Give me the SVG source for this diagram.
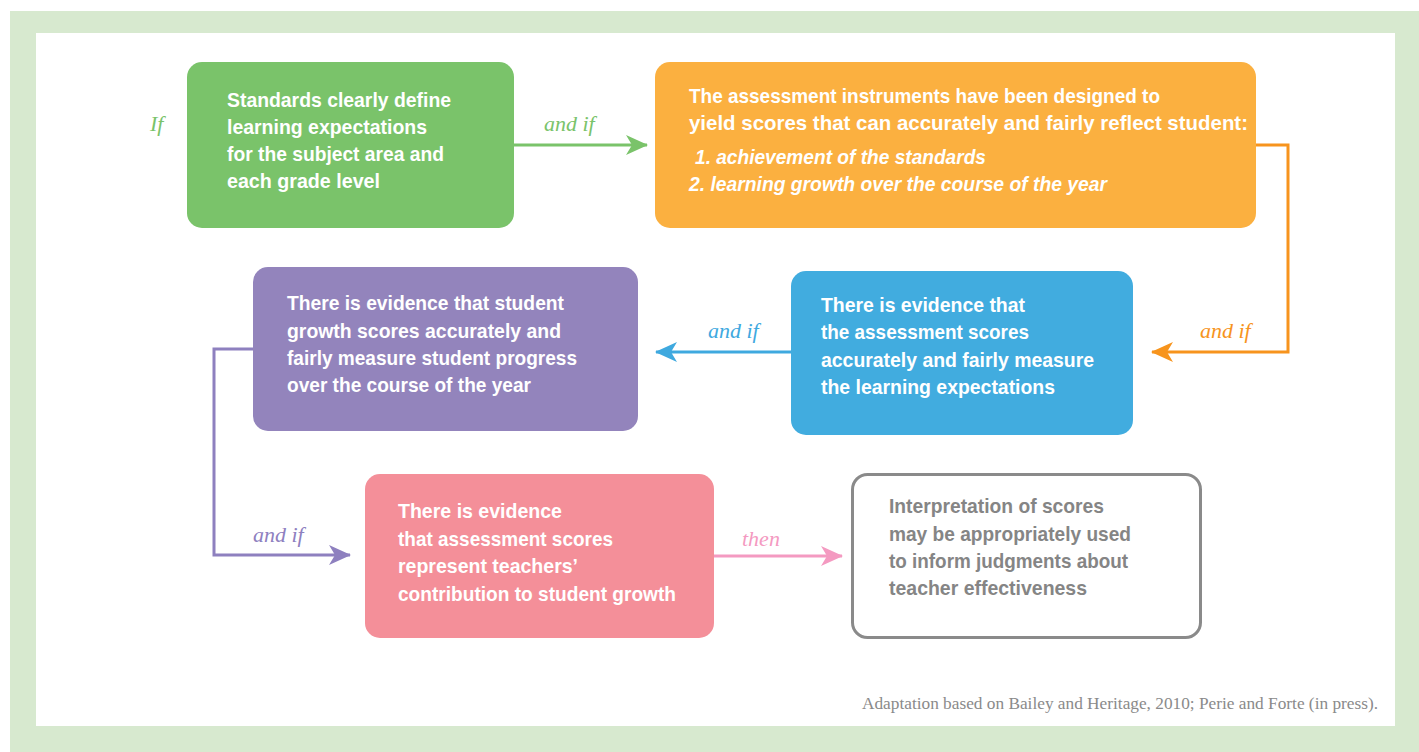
<svg xmlns="http://www.w3.org/2000/svg" width="1419" height="752" viewBox="0 0 1419 752">
<style>
.box{stroke:none}
.t{font-family:"Liberation Sans",Arial,sans-serif;font-weight:bold;font-size:21px;fill:#ffffff}
.ti{font-style:italic}
.g{fill:#858585}
.lab{font-family:"Liberation Serif","Times New Roman",serif;font-style:italic;font-size:22px}
.c{fill:none;stroke-width:3}
.foot{font-family:"Liberation Serif","Times New Roman",serif;font-size:16px;fill:#8a8a8a}
</style>
<defs>
<marker id="mg" viewBox="0 0 22 20" refX="21" refY="10" markerWidth="22" markerHeight="20" markerUnits="userSpaceOnUse" orient="auto"><path d="M0,0 L22,10 L0,20 L6,10 Z" fill="#7ac36a"/></marker>
<marker id="mo" viewBox="0 0 22 20" refX="21" refY="10" markerWidth="22" markerHeight="20" markerUnits="userSpaceOnUse" orient="auto"><path d="M0,0 L22,10 L0,20 L6,10 Z" fill="#f7941d"/></marker>
<marker id="mb" viewBox="0 0 22 20" refX="21" refY="10" markerWidth="22" markerHeight="20" markerUnits="userSpaceOnUse" orient="auto"><path d="M0,0 L22,10 L0,20 L6,10 Z" fill="#3fa9df"/></marker>
<marker id="mp" viewBox="0 0 22 20" refX="21" refY="10" markerWidth="22" markerHeight="20" markerUnits="userSpaceOnUse" orient="auto"><path d="M0,0 L22,10 L0,20 L6,10 Z" fill="#8e80bf"/></marker>
<marker id="mk" viewBox="0 0 22 20" refX="21" refY="10" markerWidth="22" markerHeight="20" markerUnits="userSpaceOnUse" orient="auto"><path d="M0,0 L22,10 L0,20 L6,10 Z" fill="#f49ac1"/></marker>
</defs>
<rect x="0" y="0" width="1419" height="752" fill="#ffffff"/>
<rect x="10" y="11" width="1409" height="741" fill="#d7e9cf"/>
<rect x="36" y="33" width="1359" height="693" fill="#ffffff"/>

<g id="connectors">
<path class="c" stroke="#7ac36a" d="M514,145 H647" marker-end="url(#mg)"/>
<path class="c" stroke="#f7941d" d="M1256,145 H1288 V352 H1152" marker-end="url(#mo)"/>
<path class="c" stroke="#3fa9df" d="M791,352 H656" marker-end="url(#mb)"/>
<path class="c" stroke="#8e80bf" d="M253,349 H214 V555 H350" marker-end="url(#mp)"/>
<path class="c" stroke="#f49ac1" d="M714,556 H842" marker-end="url(#mk)"/>
<text class="lab" x="150" y="131" fill="#7ac36a">If</text>
<text class="lab" x="544" y="131" fill="#7ac36a">and if</text>
<text class="lab" x="1200" y="338" fill="#f7941d">and if</text>
<text class="lab" x="708" y="338" fill="#3fa9df">and if</text>
<text class="lab" x="253" y="542" fill="#8e80bf">and if</text>
<text class="lab" x="742" y="546" fill="#f49ac1">then</text>
</g>

<g id="n1">
<rect class="box" x="187" y="62" width="327" height="166" rx="15" fill="#7ac36a"/>
<text class="t" x="227" y="107" textLength="224" lengthAdjust="spacingAndGlyphs">Standards clearly define</text>
<text class="t" x="227" y="134" textLength="200" lengthAdjust="spacingAndGlyphs">learning expectations</text>
<text class="t" x="227" y="161" textLength="217" lengthAdjust="spacingAndGlyphs">for the subject area and</text>
<text class="t" x="227" y="188" textLength="153" lengthAdjust="spacingAndGlyphs">each grade level</text>
</g>

<g id="n2">
<rect class="box" x="655" y="62" width="601" height="166" rx="15" fill="#fbb040"/>
<text class="t" x="689" y="103" textLength="471" lengthAdjust="spacingAndGlyphs">The assessment instruments have been designed to</text>
<text class="t" x="689" y="130" textLength="559" lengthAdjust="spacingAndGlyphs">yield scores that can accurately and fairly reflect student:</text>
<text class="t ti" x="695" y="164" textLength="291" lengthAdjust="spacingAndGlyphs">1. achievement of the standards</text>
<text class="t ti" x="689" y="191" textLength="418" lengthAdjust="spacingAndGlyphs">2. learning growth over the course of the year</text>
</g>

<g id="n3">
<rect class="box" x="791" y="271" width="342" height="164" rx="15" fill="#41acdf"/>
<text class="t" x="821" y="312" textLength="204" lengthAdjust="spacingAndGlyphs">There is evidence that</text>
<text class="t" x="821" y="339" textLength="208" lengthAdjust="spacingAndGlyphs">the assessment scores</text>
<text class="t" x="821" y="367" textLength="273" lengthAdjust="spacingAndGlyphs">accurately and fairly measure</text>
<text class="t" x="821" y="394" textLength="234" lengthAdjust="spacingAndGlyphs">the learning expectations</text>
</g>

<g id="n4">
<rect class="box" x="253" y="267" width="385" height="164" rx="15" fill="#9384bc"/>
<text class="t" x="287" y="310" textLength="277" lengthAdjust="spacingAndGlyphs">There is evidence that student</text>
<text class="t" x="287" y="338" textLength="274" lengthAdjust="spacingAndGlyphs">growth scores accurately and</text>
<text class="t" x="287" y="365" textLength="290" lengthAdjust="spacingAndGlyphs">fairly measure student progress</text>
<text class="t" x="287" y="392" textLength="244" lengthAdjust="spacingAndGlyphs">over the course of the year</text>
</g>

<g id="n5">
<rect class="box" x="365" y="474" width="349" height="164" rx="15" fill="#f48f99"/>
<text class="t" x="398" y="518" textLength="164" lengthAdjust="spacingAndGlyphs">There is evidence</text>
<text class="t" x="398" y="546" textLength="215" lengthAdjust="spacingAndGlyphs">that assessment scores</text>
<text class="t" x="398" y="573" textLength="180" lengthAdjust="spacingAndGlyphs">represent teachers’</text>
<text class="t" x="398" y="601" textLength="278" lengthAdjust="spacingAndGlyphs">contribution to student growth</text>
</g>

<g id="n6">
<rect x="852.5" y="474.5" width="348" height="163" rx="15" fill="#ffffff" stroke="#8a8a8a" stroke-width="3"/>
<text class="t g" x="889" y="513" textLength="215" lengthAdjust="spacingAndGlyphs">Interpretation of scores</text>
<text class="t g" x="889" y="541" textLength="242" lengthAdjust="spacingAndGlyphs">may be appropriately used</text>
<text class="t g" x="889" y="568" textLength="239" lengthAdjust="spacingAndGlyphs">to inform judgments about</text>
<text class="t g" x="889" y="595" textLength="198" lengthAdjust="spacingAndGlyphs">teacher effectiveness</text>
</g>

<text class="foot" x="862" y="709" textLength="516" lengthAdjust="spacingAndGlyphs">Adaptation based on Bailey and Heritage, 2010; Perie and Forte (in press).</text>
</svg>
